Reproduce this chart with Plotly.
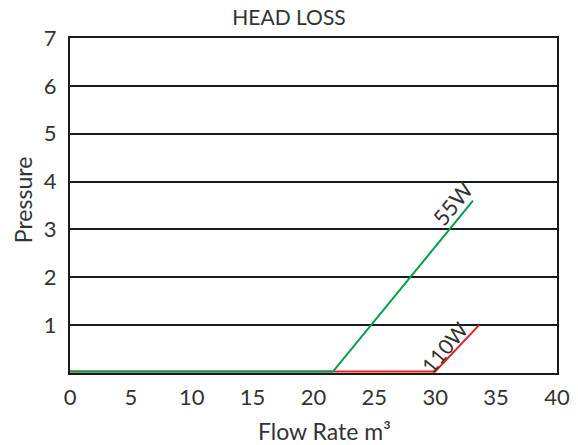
import plotly.graph_objects as go

title = "HEAD LOSS"
x_title = "Flow Rate m³"
y_title = "Pressure"

flow_55w = [0, 21.6, 33.1]
pressure_55w = [0.03, 0.03, 3.6]
flow_110w = [0, 30.0, 33.6]
pressure_110w = [0.03, 0.03, 1.0]

x_ticks = [0, 5, 10, 15, 20, 25, 30, 35, 40]
y_ticks = [1, 2, 3, 4, 5, 6, 7]

FONT = "Lato"
TXT = "#333333"

fig = go.Figure()
fig.add_trace(go.Scatter(x=flow_110w, y=pressure_110w, mode="lines",
                         line=dict(color="#EE1C25", width=2), name="110W"))
fig.add_trace(go.Scatter(x=flow_55w, y=pressure_55w, mode="lines",
                         line=dict(color="#00A04A", width=2), name="55W"))

fig.add_annotation(x=31.4, y=3.55, text="55W", showarrow=False, textangle=-51,
                   font=dict(family=FONT, size=22, color=TXT))
fig.add_annotation(x=30.8, y=0.55, text="110W", showarrow=False, textangle=-50,
                   font=dict(family=FONT, size=21, color=TXT))

# axis titles placed as annotations to match the reference offsets
fig.add_annotation(x=0.5216, y=-0.172, xref="paper", yref="paper", text=x_title,
                   showarrow=False, xanchor="center", yanchor="middle",
                   font=dict(family=FONT, size=23, color=TXT))
fig.add_annotation(x=-0.0965, y=0.516, xref="paper", yref="paper", text=y_title,
                   showarrow=False, xanchor="center", yanchor="middle", textangle=-90,
                   font=dict(family=FONT, size=23, color=TXT))

fig.update_layout(
    width=578, height=445,
    margin=dict(l=70, r=21, t=38, b=72, autoexpand=False),
    paper_bgcolor="white", plot_bgcolor="white",
    showlegend=False,
    title=dict(text=title, x=0.5, xanchor="center", y=0.96, yanchor="middle",
               font=dict(family=FONT, size=21, color=TXT)),
    font=dict(family=FONT, color=TXT),
    xaxis=dict(range=[0, 40], tickvals=x_ticks, ticktext=[str(v) for v in x_ticks],
               showgrid=False, zeroline=False, showline=True, linecolor="#1a1a1a",
               linewidth=2, mirror=True, ticks="", tickfont=dict(size=22, color=TXT),
               ticklabelstandoff=4, automargin=False),
    yaxis=dict(range=[0, 7], tickvals=y_ticks, ticktext=[str(v) for v in y_ticks],
               showgrid=True, gridcolor="#1a1a1a", gridwidth=2, zeroline=False,
               showline=True, linecolor="#1a1a1a", linewidth=2, mirror=True,
               ticks="", tickfont=dict(size=22, color=TXT),
               ticklabelstandoff=7, automargin=False),
)

fig.write_html("out.html", config={"displayModeBar": False},
               post_script="document.body.style.margin='0';document.body.style.overflow='hidden';")
